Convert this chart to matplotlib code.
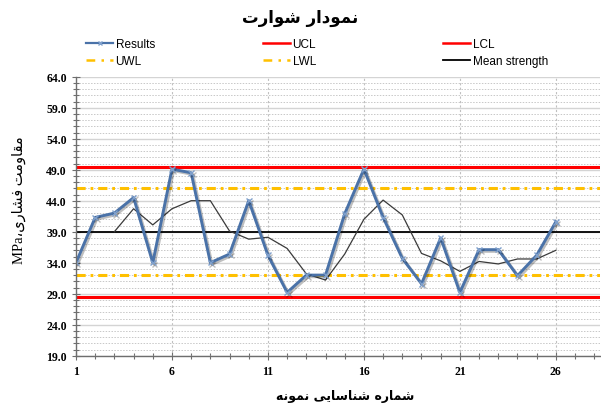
import matplotlib
matplotlib.use("Agg")
import matplotlib.pyplot as plt
import matplotlib.patheffects as pe
from matplotlib.ticker import MultipleLocator, FixedLocator, FormatStrFormatter
from matplotlib.lines import Line2D

# sample number and measured strength (MPa)
samples = list(range(1, 27))
results = [34.0, 41.3, 42.0, 44.5, 34.0, 49.1, 48.5, 34.0, 35.4, 44.0,
           35.2, 29.2, 32.0, 32.0, 41.9, 49.1, 41.3, 34.7, 30.6, 38.0,
           29.2, 36.1, 36.1, 31.9, 35.2, 40.6]
# moving average line, starts at sample 3
ma_samples = list(range(3, 27))
moving_avg = [39.0, 42.7, 40.1, 42.7, 44.0, 44.0, 39.1, 37.8, 38.1, 36.3,
              32.2, 31.2, 35.4, 41.0, 44.1, 41.7, 35.5, 34.3, 32.6, 34.2,
              33.8, 34.6, 34.6, 36.0]

ucl, lcl = 49.5, 28.5
uwl, lwl = 46.0, 32.0
mean_strength = 39.0

x_ticks = [1, 6, 11, 16, 21, 26]
y_ticks = [19, 24, 29, 34, 39, 44, 49, 54, 59, 64]

title_fa = "نمودار شوارت"
xlabel_fa = "شماره شناسایی نمونه"
ylabel_fa = "مقاومت فشاری"

# quick manual arabic shaping (matplotlib has no bidi / joining)
FORMS = {
    'ا': ('\uFE8D', '\uFE8E', None, None),
    'د': ('\uFEA9', '\uFEAA', None, None),
    'ر': ('\uFEAD', '\uFEAE', None, None),
    'و': ('\uFEED', '\uFEEE', None, None),
    'ت': ('\uFE95', '\uFE96', '\uFE97', '\uFE98'),
    'ش': ('\uFEB5', '\uFEB6', '\uFEB7', '\uFEB8'),
    'س': ('\uFEB1', '\uFEB2', '\uFEB3', '\uFEB4'),
    'ن': ('\uFEE5', '\uFEE6', '\uFEE7', '\uFEE8'),
    'م': ('\uFEE1', '\uFEE2', '\uFEE3', '\uFEE4'),
    'ه': ('\uFEE9', '\uFEEA', '\uFEEB', '\uFEEC'),
    'ق': ('\uFED5', '\uFED6', '\uFED7', '\uFED8'),
    'ف': ('\uFED1', '\uFED2', '\uFED3', '\uFED4'),
    'ی': ('\uFEEF', '\uFEF0', '\uFEF3', '\uFEF4'),
}


def shape(s):
    out = []
    for i, c in enumerate(s):
        if c not in FORMS:
            out.append(c)
            continue
        f = FORMS[c]
        prev = s[i - 1] if i > 0 else ''
        nxt = s[i + 1] if i + 1 < len(s) else ''
        pj = prev in FORMS and FORMS[prev][2] is not None
        nj = nxt in FORMS and f[2] is not None
        if pj and nj:
            out.append(f[3])
        elif pj:
            out.append(f[1])
        elif nj:
            out.append(f[2])
        else:
            out.append(f[0])
    return ''.join(reversed(out))


blue = '#4A72A8'

fig = plt.figure(figsize=(6.01, 4.06), dpi=100)
ax = fig.add_axes([76 / 601, 1 - 356.7 / 406, 524 / 601, (356.7 - 77.7) / 406])

ax.set_xlim(1, 28.3)
ax.set_ylim(19, 64)

ax.xaxis.set_major_locator(FixedLocator(x_ticks))
ax.xaxis.set_minor_locator(MultipleLocator(1))
ax.yaxis.set_major_locator(FixedLocator(y_ticks))
ax.yaxis.set_minor_locator(MultipleLocator(1))
ax.yaxis.set_major_formatter(FormatStrFormatter('%.1f'))

ax.grid(which='major', axis='y', color='#D4D4D4', lw=1.0, ls='-')
ax.grid(which='minor', axis='y', color='#C8C8C8', lw=0.7, ls=(0, (1.5, 1.5)))
ax.grid(which='major', axis='x', color='#C0C0C0', lw=0.8, ls=(0, (2, 2)))
ax.set_axisbelow(True)

for s in ['top', 'right']:
    ax.spines[s].set_visible(False)
for s in ['left', 'bottom']:
    ax.spines[s].set_color('#6E6E6E')
    ax.spines[s].set_linewidth(1.0)

ax.tick_params(which='both', direction='inout', color='#6E6E6E')
ax.tick_params(which='major', length=6, width=0.8)
ax.tick_params(which='minor', length=4, width=0.8)
ax.tick_params(axis='x', pad=4)
for lab in ax.get_xticklabels() + ax.get_yticklabels():
    lab.set_fontfamily('Liberation Serif')
    lab.set_fontweight('bold')
    lab.set_fontsize(8.5)

h_ucl = ax.axhline(ucl, color='#FF0000', lw=2.2, label='UCL')
ax.axhline(lcl, color='#FF0000', lw=2.2)
dash = (0, (3.0, 1.6, 0.9, 1.6))
h_uwl = ax.axhline(uwl, color='#FFC000', lw=2.2, ls=dash, label='UWL')
ax.axhline(lwl, color='#FFC000', lw=2.2, ls=dash)
h_mean = ax.axhline(mean_strength, color='black', lw=1.3, label='Mean strength')

ax.plot(ma_samples, moving_avg, color='#3A3A3A', lw=0.9)

h_res, = ax.plot(samples, results, color=blue, lw=2.1, marker='x', ms=4,
                 mec='#7FA0CC', mew=1.0, label='Results',
                 path_effects=[pe.SimpleLineShadow(offset=(1.2, -1.2), alpha=0.25),
                               pe.Normal()])

h_res_leg = Line2D([], [], color=blue, lw=1.6, marker='x', ms=3.5, mec='#7FA0CC')
h_ucl_leg = Line2D([], [], color='#FF0000', lw=1.8)
h_lcl_leg = Line2D([], [], color='#FF0000', lw=1.8)
h_uwl_leg = Line2D([], [], color='#FFC000', lw=1.8, ls=(0, (3.5, 2.5, 1, 2.5)))
h_lwl_leg = Line2D([], [], color='#FFC000', lw=1.8, ls=(0, (3.5, 2.5, 1, 2.5)))
h_mean_leg = Line2D([], [], color='black', lw=1.3)

cols = [
    (86, [h_res_leg, h_uwl_leg], ['Results', 'UWL']),
    (263, [h_ucl_leg, h_lwl_leg], ['UCL', 'LWL']),
    (443, [h_lcl_leg, h_mean_leg], ['LCL', 'Mean strength']),
]
for xpx, hs, ls in cols:
    fig.legend(hs, ls, loc='upper left', bbox_to_anchor=(xpx / 601, 1 - 39 / 406),
               frameon=False, borderpad=0, borderaxespad=0, handlelength=2.3,
               handletextpad=0.2, labelspacing=0.45,
               prop={'family': 'Liberation Sans', 'size': 8.5})

fig.text(0.5, 1 - 18 / 406, shape(title_fa), ha='center', va='center',
         fontsize=12, fontweight='bold', family='DejaVu Sans')
fig.text(345 / 601, 1 - 397 / 406, shape(xlabel_fa), ha='center', va='center',
         fontsize=9, fontweight='bold', family='DejaVu Sans')
fig.text(19 / 601, 1 - 200 / 406, 'MPa\u060C' + shape(ylabel_fa), ha='center',
         va='center', rotation=90, fontsize=10.5,
         family=['Liberation Serif', 'DejaVu Sans'])

fig.savefig('out.png', dpi=100)
